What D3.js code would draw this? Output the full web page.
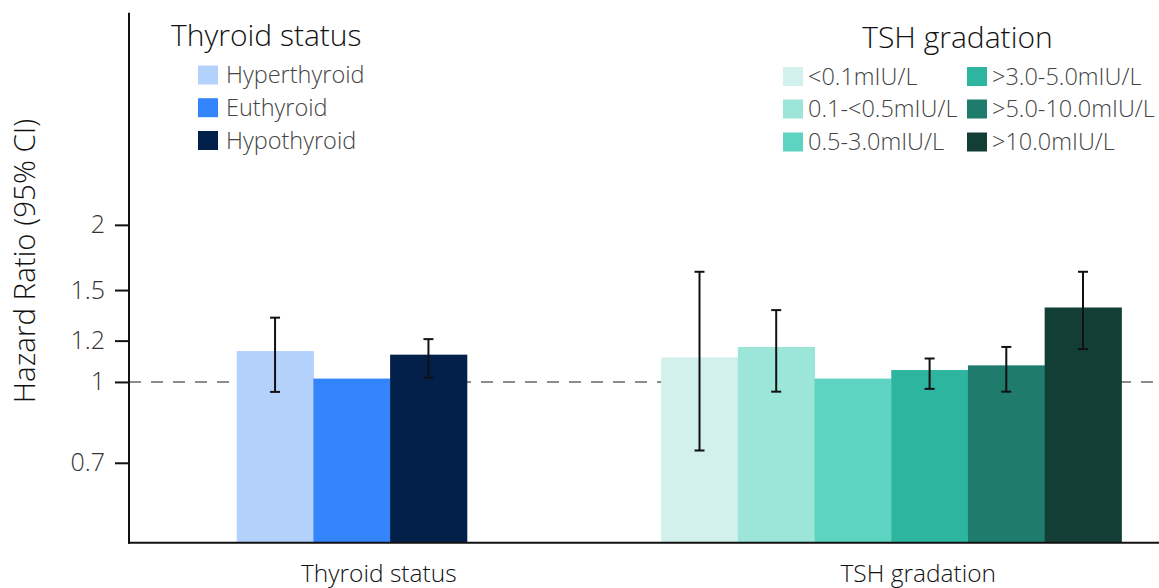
<!DOCTYPE html>
<html>
<head>
<meta charset="utf-8">
<script src="https://cdn.jsdelivr.net/npm/d3@7"></script>
<style>
  body { margin: 0; background: #fff; }
  svg { display: block; font-family: 'Open Sans', sans-serif; }
</style>
</head>
<body>
<div id="chart"></div>
<script>
// values (hazard ratio and 95% CI)
const groups = ['Thyroid status', 'TSH gradation'];

const thyroidCats = ['Hyperthyroid', 'Euthyroid', 'Hypothyroid'];
const thyroidHR = [1.146, 1.015, 1.128];
const thyroidLo = [0.957, null, 1.018];
const thyroidHi = [1.328, null, 1.208];
const thyroidColors = ['#b3d1fb', '#3484fb', '#03204b'];

const tshCats = ['<0.1mIU/L', '0.1-<0.5mIU/L', '0.5-3.0mIU/L', '>3.0-5.0mIU/L', '>5.0-10.0mIU/L', '>10.0mIU/L'];
const tshHR = [1.115, 1.167, 1.015, 1.054, 1.076, 1.389];
const tshLo = [0.739, 0.958, null, 0.970, 0.958, 1.156];
const tshHi = [1.626, 1.373, null, 1.109, 1.167, 1.626];
const tshColors = ['#d3f1ec', '#9be5d9', '#5dd4c1', '#2db5a0', '#1f7c6c', '#123e36'];

const yTicks = [0.7, 1, 1.2, 1.5, 2];

const width = 1159;
const height = 588;
const axisLeft = 129;
const axisBottom = 542.7;
const barWidth = 76.7;

const svg = d3.select('#chart').append('svg')
  .attr('width', width)
  .attr('height', height);

const scaleY = d3.scaleLog()
  .domain([0.492, 5.1])
  .range([axisBottom, 12.7]);

const scaleGroup = d3.scaleBand()
  .domain(groups)
  .range([82, 1161])
  .padding(0);

const series = [
  { group: groups[0], cats: thyroidCats, hr: thyroidHR, lo: thyroidLo, hi: thyroidHi, colors: thyroidColors },
  { group: groups[1], cats: tshCats, hr: tshHR, lo: tshLo, hi: tshHi, colors: tshColors }
];

// reference line at HR = 1 sits behind the bars
svg.append('line')
  .attr('x1', axisLeft)
  .attr('x2', width)
  .attr('y1', scaleY(1))
  .attr('y2', scaleY(1))
  .attr('stroke', '#8c8c8c')
  .attr('stroke-width', 2)
  .attr('stroke-dasharray', '12,10');

series.forEach(s => {
  const center = scaleGroup(s.group) + scaleGroup.bandwidth() / 2;
  const scaleBar = d3.scaleBand()
    .domain(s.cats)
    .range([center - s.cats.length * barWidth / 2, center + s.cats.length * barWidth / 2]);

  const rows = s.cats.map((c, i) => ({ cat: c, hr: s.hr[i], lo: s.lo[i], hi: s.hi[i], color: s.colors[i] }));

  svg.append('g').selectAll('rect')
    .data(rows)
    .enter()
    .append('rect')
    .attr('x', d => scaleBar(d.cat))
    .attr('width', scaleBar.bandwidth() + 0.5)
    .attr('y', d => scaleY(d.hr))
    .attr('height', d => axisBottom - scaleY(d.hr))
    .attr('fill', d => d.color);

  const err = svg.append('g').selectAll('g')
    .data(rows.filter(d => d.lo !== null))
    .enter()
    .append('g')
    .attr('stroke', '#111')
    .attr('stroke-width', 2);

  const cx = d => scaleBar(d.cat) + scaleBar.bandwidth() / 2;
  err.append('line')
    .attr('x1', cx).attr('x2', cx)
    .attr('y1', d => scaleY(d.lo)).attr('y2', d => scaleY(d.hi));
  err.append('line')
    .attr('x1', d => cx(d) - 5).attr('x2', d => cx(d) + 5)
    .attr('y1', d => scaleY(d.hi)).attr('y2', d => scaleY(d.hi));
  err.append('line')
    .attr('x1', d => cx(d) - 5).attr('x2', d => cx(d) + 5)
    .attr('y1', d => scaleY(d.lo)).attr('y2', d => scaleY(d.lo));
});

// y axis
const axisY = d3.axisLeft(scaleY)
  .tickValues(yTicks)
  .tickFormat(d3.format('~g'))
  .tickSize(14)
  .tickPadding(10);

const groupAxisY = svg.append('g')
  .attr('transform', `translate(${axisLeft},0)`)
  .call(axisY);
groupAxisY.select('.domain').remove();
groupAxisY.selectAll('.tick line').attr('stroke', '#111').attr('stroke-width', 2);
groupAxisY.selectAll('.tick text')
  .attr('fill', '#333')
  .style('font-size', '25px')
  .style('font-weight', 300)
  .style('font-family', "'Open Sans', sans-serif");

svg.append('line')
  .attr('x1', axisLeft).attr('x2', axisLeft)
  .attr('y1', 12.7).attr('y2', axisBottom + 1)
  .attr('stroke', '#111').attr('stroke-width', 2);

svg.append('line')
  .attr('x1', axisLeft - 1).attr('x2', width)
  .attr('y1', axisBottom).attr('y2', axisBottom)
  .attr('stroke', '#111').attr('stroke-width', 2);

// x category labels
svg.append('g').selectAll('text')
  .data(groups)
  .enter()
  .append('text')
  .attr('x', d => scaleGroup(d) + scaleGroup.bandwidth() / 2 + 27)
  .attr('y', 582)
  .attr('text-anchor', 'middle')
  .attr('fill', '#111')
  .style('font-size', '24.5px')
  .style('font-weight', 300)
  .text(d => d);

// y title
svg.append('text')
  .attr('transform', 'translate(35,261) rotate(-90)')
  .attr('text-anchor', 'middle')
  .attr('fill', '#111')
  .style('font-size', '29.5px')
  .style('font-weight', 300)
  .text('Hazard Ratio (95% CI)');

// legends
const legendThyroid = svg.append('g');
legendThyroid.append('text')
  .attr('x', 171).attr('y', 46)
  .attr('fill', '#111')
  .style('font-size', '30px')
  .style('font-weight', 300)
  .text('Thyroid status');

const rowsY = [75, 107.7, 140.5];
thyroidCats.forEach((c, i) => {
  legendThyroid.append('rect')
    .attr('x', 198).attr('y', rowsY[i] - 9.5)
    .attr('width', 20).attr('height', 19)
    .attr('fill', thyroidColors[i]);
  legendThyroid.append('text')
    .attr('x', 226).attr('y', rowsY[i] + 8)
    .attr('fill', '#444')
    .style('font-size', '23.5px')
    .style('font-weight', 300)
    .text(c);
});

const legendTsh = svg.append('g');
legendTsh.append('text')
  .attr('x', 957.5).attr('y', 48)
  .attr('text-anchor', 'middle')
  .attr('fill', '#111')
  .style('font-size', '30px')
  .style('font-weight', 300)
  .text('TSH gradation');

const tshRowsY = [76.5, 109, 142];
const tshColsX = [783, 967];
tshCats.forEach((c, i) => {
  const col = Math.floor(i / 3);
  const row = i % 3;
  legendTsh.append('rect')
    .attr('x', tshColsX[col]).attr('y', tshRowsY[row] - 9.5)
    .attr('width', 20).attr('height', 19)
    .attr('fill', tshColors[i]);
  legendTsh.append('text')
    .attr('x', tshColsX[col] + 25).attr('y', tshRowsY[row] + 8)
    .attr('fill', '#444')
    .style('font-size', '23.5px')
    .style('font-weight', 300)
    .text(c);
});
</script>
</body>
</html>
